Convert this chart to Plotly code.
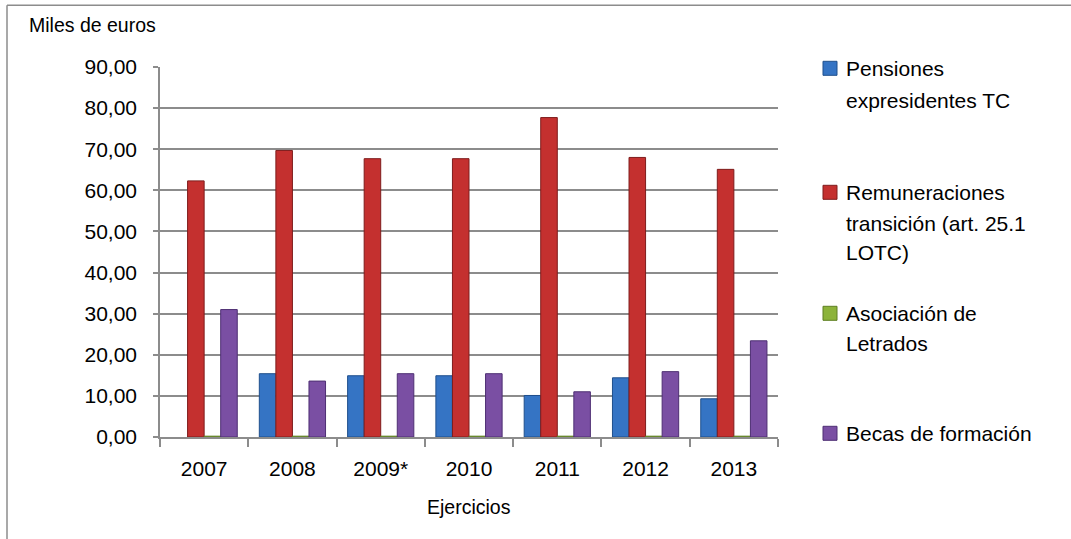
import plotly.graph_objects as go

years = ["2007", "2008", "2009*", "2010", "2011", "2012", "2013"]
pensiones = [None, 15.4, 14.9, 14.9, 10.1, 14.4, 9.3]
remuneraciones = [62.3, 69.7, 67.7, 67.7, 77.7, 68.0, 65.1]
asociacion = [0.2, 0.2, 0.2, 0.2, 0.2, 0.2, 0.2]
becas = [31.0, 13.6, 15.4, 15.4, 11.0, 15.9, 23.4]

series_names = [
    ["Pensiones", "expresidentes TC"],
    ["Remuneraciones", "transición (art. 25.1", "LOTC)"],
    ["Asociación de", "Letrados"],
    ["Becas de formación"],
]
series_values = [pensiones, remuneraciones, asociacion, becas]
colors = ["#3574C4", "#C4302F", "#8CB33A", "#7A4FA3"]
edge_colors = ["#1F4F8C", "#7E1C1C", "#5E7F22", "#4E2F73"]

W, H = 1071, 539
PL, PR, PT, PB = 160, 778, 66.7, 436.7
FONT = "Liberation Sans, Arial, sans-serif"
GRID = "#8C8C8C"

fig = go.Figure()
for name, vals, c, ec in zip(series_names, series_values, colors, edge_colors):
    fig.add_trace(go.Bar(
        x=years, y=vals, name=" ".join(name),
        marker=dict(color=c, line=dict(color=ec, width=1)),
        showlegend=False,
    ))

def px_to_paper(px, py):
    return (px - PL) / (PR - PL), (PB - py) / (PB - PT)

annotations = []
shapes = []

# legend (custom placement)
legend_rows = [[68, 100], [192, 223, 252], [313, 343], [433]]
for name, rows, c, ec in zip(series_names, legend_rows, colors, edge_colors):
    for line, yy in zip(name, rows):
        ax, ay = px_to_paper(844, yy)
        annotations.append(dict(
            x=ax, y=ay, xref="paper", yref="paper", text=line, showarrow=False,
            xanchor="left", yanchor="middle", font=dict(family=FONT, size=21, color="#000000"),
        ))
    x0, y0 = px_to_paper(823, rows[0] + 7)
    x1, y1 = px_to_paper(837, rows[0] - 7)
    shapes.append(dict(type="rect", xref="paper", yref="paper", x0=x0, x1=x1, y0=y0, y1=y1,
                       fillcolor=c, line=dict(color=ec, width=1)))

# axis titles
tx, ty = px_to_paper(27, 25)
annotations.append(dict(x=tx, y=ty, xref="paper", yref="paper", text="Miles de euros",
                        showarrow=False, xanchor="left", yanchor="middle",
                        font=dict(family=FONT, size=19.5, color="#000000")))
tx, ty = px_to_paper(469, 507)
annotations.append(dict(x=tx, y=ty, xref="paper", yref="paper", text="Ejercicios",
                        showarrow=False, xanchor="center", yanchor="middle",
                        font=dict(family=FONT, size=19.5, color="#000000")))

# outer frame (top and left edges)
fx0, fy0 = px_to_paper(7, 5)
fx1, _ = px_to_paper(W + 5, 5)
_, fyb = px_to_paper(7, H + 5)
shapes.append(dict(type="line", xref="paper", yref="paper", x0=fx0, x1=fx1, y0=fy0, y1=fy0,
                   line=dict(color="#8C8C8C", width=1.5)))
shapes.append(dict(type="line", xref="paper", yref="paper", x0=fx0, x1=fx0, y0=fy0, y1=fyb,
                   line=dict(color="#8C8C8C", width=1.5)))

fig.update_layout(
    width=W, height=H, autosize=False,
    margin=dict(l=PL, r=W - PR, t=PT, b=H - PB, pad=0),
    paper_bgcolor="white", plot_bgcolor="white",
    barmode="group", bargap=0.25, bargroupgap=0,
    separators=",.",
    font=dict(family=FONT, size=21, color="#000000"),
    annotations=annotations, shapes=shapes,
    xaxis=dict(
        type="category", showgrid=False, showline=True, linecolor=GRID, linewidth=1.5,
        ticks="outside", ticklen=8, tickcolor=GRID, tickwidth=1.5, tickson="boundaries",
        tickfont=dict(family=FONT, size=21, color="#000000"), ticklabelstandoff=12,
    ),
    yaxis=dict(
        range=[0, 90], dtick=10, tickformat=".2f", showgrid=True, gridcolor=GRID, gridwidth=1.5,
        showline=True, linecolor=GRID, linewidth=1.5, zeroline=False,
        ticks="outside", ticklen=5, tickcolor=GRID, tickwidth=1.5,
        tickfont=dict(family=FONT, size=21, color="#000000"), ticklabelstandoff=12,
    ),
)

fig.write_html("out.html")
